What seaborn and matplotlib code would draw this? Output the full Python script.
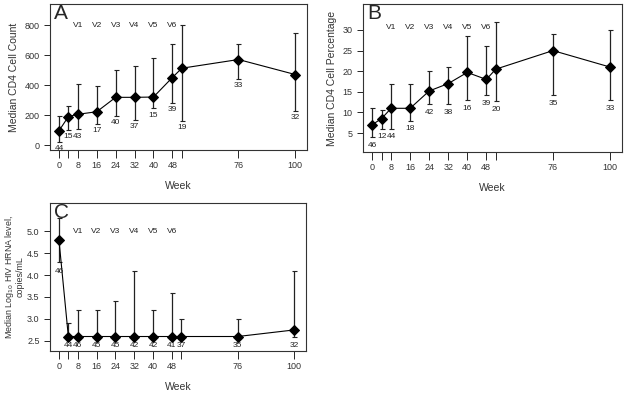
import numpy as np
import pandas as pd
import seaborn as sns
import matplotlib.pyplot as plt

# weeks of follow-up
weeks = [0, 4, 8, 16, 24, 32, 40, 48, 52, 76, 100]
tick_weeks = [0, 4, 8, 16, 24, 32, 40, 48, 52, 76, 100]
tick_labels = ["0", "", "8", "16", "24", "32", "40", "48", "", "76", "100"]
visits = ["V1", "V2", "V3", "V4", "V5", "V6"]
visit_weeks = [8, 16, 24, 32, 40, 48]

# panel A: CD4 count
cd4_med = [95, 190, 205, 222, 318, 318, 320, 450, 512, 570, 470]
cd4_lo = [20, 100, 105, 140, 195, 170, 245, 280, 160, 440, 230]
cd4_hi = [195, 260, 405, 395, 500, 530, 578, 675, 800, 675, 745]
cd4_n = [44, 15, 43, 17, 40, 37, 15, 39, 19, 33, 32]

# panel B: CD4 percentage
pct_med = [7, 8.5, 11, 11, 15.2, 17, 19.7, 18, 20.5, 25, 21]
pct_lo = [4, 6, 6, 8, 12, 12, 13, 14.2, 12.7, 14.2, 13]
pct_hi = [11, 10.5, 17, 17, 20, 21, 28.5, 26, 32, 29, 30]
pct_n = [46, 12, 44, 18, 42, 38, 16, 39, 20, 35, 33]

# panel C: log10 HIV RNA
rna_med = [4.8, 2.6, 2.6, 2.6, 2.6, 2.6, 2.6, 2.6, 2.6, 2.6, 2.75]
rna_lo = [4.3, 2.6, 2.6, 2.6, 2.6, 2.6, 2.6, 2.6, 2.6, 2.6, 2.6]
rna_hi = [5.3, 2.9, 3.2, 3.2, 3.4, 4.1, 3.2, 3.6, 3.0, 3.0, 4.1]
rna_n = [46, 44, 46, 45, 45, 42, 42, 41, 37, 35, 32]

sns.set_style("ticks")
plt.rcParams['font.family'] = ['Arial', 'Liberation Sans', 'DejaVu Sans']
plt.rcParams['font.size'] = 7

fig = plt.figure(figsize=(6.24, 3.95), dpi=100)
W, H = 624, 395


def add_ax(x0, y0, x1, y1):
    return fig.add_axes([x0 / W, 1 - y1 / H, (x1 - x0) / W, (y1 - y0) / H])


def panel(ax, med, lo, hi, n, ylim, yticks, ylabel, letter, vy, label_off, ylabels=None):
    df = pd.DataFrame({"week": weeks, "value": med})
    err = [np.array(med) - np.array(lo), np.array(hi) - np.array(med)]
    ax.errorbar(weeks, med, yerr=err, fmt="none", ecolor="#222222",
                elinewidth=0.9, capsize=1.8, capthick=0.8, zorder=2)
    sns.lineplot(data=df, x="week", y="value", ax=ax, color="black",
                 linewidth=0.8, marker="D", markersize=5.5,
                 markeredgecolor="black", zorder=3)
    for w, l, c in zip(weeks, lo, n):
        ax.text(w, l - label_off, str(c), ha="center", va="top",
                fontsize=6, color="#222222")
    for w, v in zip(visit_weeks, visits):
        ax.text(w, vy, v, ha="center", va="center", fontsize=6, color="#222222")
    ax.set_xlim(-3.8, 105)
    ax.set_ylim(*ylim)
    ax.set_xticks(tick_weeks)
    ax.set_xticklabels(tick_labels, fontsize=6.5, color="#333333")
    ax.set_yticks(yticks)
    if ylabels is not None:
        ax.set_yticklabels(ylabels)
    ax.tick_params(axis="y", labelsize=6.5, labelcolor="#333333", length=4, width=0.7)
    ax.tick_params(axis="x", length=6, width=0.7, pad=2)
    ax.set_xlabel("Week", fontsize=7.5, color="#333333", labelpad=8)
    ax.set_ylabel(ylabel, fontsize=7.5, color="#333333")
    for s in ax.spines.values():
        s.set_linewidth(0.8)
        s.set_color("#333333")
    ax.text(0.015, 1.0, letter, transform=ax.transAxes, ha="left", va="top",
            fontsize=15)


axA = add_ax(50, 4, 307, 150)
panel(axA, cd4_med, cd4_lo, cd4_hi, cd4_n, (-33, 940), [0, 200, 400, 600, 800],
      "Median CD4 Cell Count", "A", 800, 22)

axB = add_ax(363, 4, 622, 152)
panel(axB, pct_med, pct_lo, pct_hi, pct_n, (0.4, 36.3), [5, 10, 15, 20, 25, 30],
      "Median CD4 Cell Percentage", "B", 30.7, 1.1)

axC = add_ax(50, 203, 306, 351)
panel(axC, rna_med, rna_lo, rna_hi, rna_n, (2.27, 5.64), [2.5, 3.0, 3.5, 4.0, 4.5, 5.0],
      "Median Log$_{10}$ HIV HRNA level,\ncopies/mL", "C", 4.98, 0.13,
      ylabels=["2.5", "3.0", "3.5", "4.0", "4.5", "5.0"])
axC.yaxis.label.set_fontsize(6.4)
axC.yaxis.label.set_linespacing(0.95)
axC.yaxis.set_label_coords(-0.1, 0.5)

fig.savefig("out.png", dpi=100)
